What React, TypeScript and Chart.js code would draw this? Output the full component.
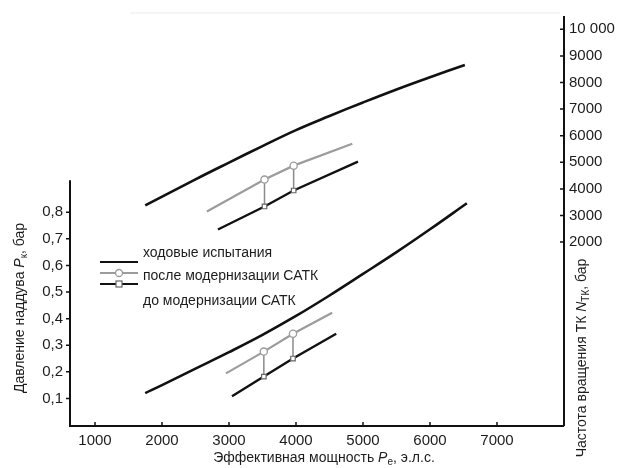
import React, { useEffect, useRef } from "react";
import { Chart, registerables } from "chart.js";

Chart.register(...registerables);

// ---- tick labels ----
const powerTicks = [1000, 2000, 3000, 4000, 5000, 6000, 7000];
const boostTicks = [0.1, 0.2, 0.3, 0.4, 0.5, 0.6, 0.7, 0.8];
const speedTicks = [2000, 3000, 4000, 5000, 6000, 7000, 8000, 9000, 10000];
const boostAxisTop = 0.92;

// ---- sea trials (ходовые испытания) ----
const trialSpeedPower = [1750, 2500, 3000, 3500, 4000, 4500, 5000, 5500, 6000, 6520];
const trialSpeed = [3380, 4360, 4990, 5610, 6210, 6740, 7250, 7740, 8200, 8660];
const trialBoostPower = [1750, 2000, 2500, 3000, 3500, 4000, 4500, 5000, 5500, 6000, 6550];
const trialBoost = [0.12, 0.15, 0.212, 0.274, 0.339, 0.41, 0.487, 0.568, 0.65, 0.736, 0.834];

// ---- after modernisation (после модернизации САТК) ----
const afterSpeedPower = [2670, 3530, 3965, 4840];
const afterSpeed = [3150, 4350, 4875, 5700];
const afterBoostPower = [2955, 3520, 3955, 4540];
const afterBoost = [0.194, 0.276, 0.343, 0.422];

// ---- before modernisation (до модернизации САТК) ----
const beforeSpeedPower = [2835, 3530, 3965, 4925];
const beforeSpeed = [2475, 3340, 3940, 5025];
const beforeBoostPower = [3045, 3520, 3955, 4600];
const beforeBoost = [0.108, 0.182, 0.25, 0.343];

const markerIdx = [1, 2];

const legendLabels = ["ходовые испытания", "после модернизации САТК", "до модернизации САТК"];

const FONT = "'Liberation Sans', Arial, Helvetica, sans-serif";
const TEXT = "#1c1c1c";
const BLACK = "#111111";
const GRAY = "#9c9c9c";

const pts = (xs: number[], ys: number[]) => xs.map((x, i) => ({ x, y: ys[i] }));

type Part = { t: string; it?: boolean; sub?: boolean };

function drawRich(ctx: CanvasRenderingContext2D, parts: Part[], cx: number, baseY: number) {
  const fontOf = (p: Part) =>
    `${p.it ? "italic " : ""}${p.sub ? 10 : 14}px ${FONT}`;
  let total = 0;
  const widths = parts.map((p) => {
    ctx.font = fontOf(p);
    const w = ctx.measureText(p.t).width;
    total += w;
    return w;
  });
  let x = cx - total / 2;
  ctx.textAlign = "left";
  ctx.textBaseline = "alphabetic";
  parts.forEach((p, i) => {
    ctx.font = fontOf(p);
    ctx.fillText(p.t, x, baseY + (p.sub ? 3 : 0));
    x += widths[i];
  });
}

const decor = {
  id: "decor",
  afterDraw(chart: any) {
    const ctx: CanvasRenderingContext2D = chart.ctx;
    const xs = chart.scales.x;
    const yL = chart.scales.yL;
    const yR = chart.scales.yR;
    const { left, right, top, bottom } = chart.chartArea;
    ctx.save();

    // faint line at top (scan artefact)
    ctx.strokeStyle = "#ebebeb";
    ctx.lineWidth = 1;
    ctx.beginPath();
    ctx.moveTo(130, top - 3);
    ctx.lineTo(right - 4, top - 3);
    ctx.stroke();

    // axis lines
    ctx.strokeStyle = BLACK;
    ctx.lineWidth = 2;
    ctx.beginPath();
    ctx.moveTo(left, yL.getPixelForValue(boostAxisTop));
    ctx.lineTo(left, bottom + 1);
    ctx.lineTo(right, bottom + 1);
    ctx.moveTo(right, bottom + 1);
    ctx.lineTo(right, top);
    ctx.stroke();

    // tick marks
    ctx.lineWidth = 1.5;
    ctx.beginPath();
    boostTicks.forEach((v) => {
      const y = yL.getPixelForValue(v);
      ctx.moveTo(left - 4, y);
      ctx.lineTo(left, y);
    });
    speedTicks.forEach((v) => {
      const y = yR.getPixelForValue(v);
      ctx.moveTo(right - 4, y);
      ctx.lineTo(right, y);
    });
    powerTicks.forEach((v) => {
      const x = xs.getPixelForValue(v);
      ctx.moveTo(x, bottom + 1);
      ctx.lineTo(x, bottom - 3);
    });
    ctx.stroke();

    // titles
    ctx.fillStyle = TEXT;
    drawRich(
      ctx,
      [{ t: "Эффективная мощность " }, { t: "P", it: true }, { t: "e", sub: true }, { t: ", э.л.с." }],
      324,
      462
    );

    ctx.save();
    ctx.translate(24, 308);
    ctx.rotate(-Math.PI / 2);
    drawRich(
      ctx,
      [{ t: "Давление наддува " }, { t: "P", it: true }, { t: "к", sub: true }, { t: ", бар" }],
      0,
      0
    );
    ctx.restore();

    ctx.save();
    ctx.translate(586, 358);
    ctx.rotate(-Math.PI / 2);
    drawRich(
      ctx,
      [{ t: "Частота вращения ТК " }, { t: "N", it: true }, { t: "ТК", sub: true }, { t: ", бар" }],
      0,
      0
    );
    ctx.restore();

    // legend
    const lx0 = 100, lx1 = 138, lxm = 119, tx = 143;
    ctx.lineWidth = 2;
    ctx.strokeStyle = BLACK;
    ctx.beginPath();
    ctx.moveTo(lx0, 262);
    ctx.lineTo(lx1, 262);
    ctx.stroke();
    ctx.strokeStyle = GRAY;
    ctx.beginPath();
    ctx.moveTo(lx0, 273);
    ctx.lineTo(lx1, 273);
    ctx.stroke();
    ctx.fillStyle = "#fff";
    ctx.lineWidth = 1.3;
    ctx.beginPath();
    ctx.arc(lxm, 273, 3.5, 0, Math.PI * 2);
    ctx.fill();
    ctx.stroke();
    ctx.strokeStyle = BLACK;
    ctx.lineWidth = 2;
    ctx.beginPath();
    ctx.moveTo(lx0, 284);
    ctx.lineTo(lx1, 284);
    ctx.stroke();
    ctx.fillStyle = "#fff";
    ctx.strokeStyle = "#666";
    ctx.lineWidth = 1.2;
    ctx.fillRect(lxm - 3, 281, 6, 6);
    ctx.strokeRect(lxm - 3, 281, 6, 6);

    ctx.fillStyle = TEXT;
    ctx.font = `14px ${FONT}`;
    ctx.textAlign = "left";
    ctx.textBaseline = "alphabetic";
    ctx.fillText(legendLabels[0], tx, 257);
    ctx.fillText(legendLabels[1], tx, 280);
    ctx.fillText(legendLabels[2], tx, 305);

    ctx.restore();
  },
};

function connector(xs: number[], yTop: number[], xs2: number[], yBot: number[], i: number, axis: string) {
  return {
    data: [
      { x: xs[i], y: yTop[i] },
      { x: xs2[i], y: yBot[i] },
    ],
    yAxisID: axis,
    borderColor: "#8a8a8a",
    borderWidth: 1.5,
    pointRadius: 0,
    tension: 0,
    order: 5,
  };
}

function markerRadius(r: number) {
  return (c: any) => (markerIdx.includes(c.dataIndex) ? r : 0);
}

export default function App() {
  const ref = useRef<HTMLCanvasElement | null>(null);

  useEffect(() => {
    if (!ref.current) return;
    const tickFont = { family: FONT, size: 15 };
    const chart = new Chart(ref.current, {
      type: "line",
      data: {
        datasets: [
          {
            label: legendLabels[0],
            data: pts(trialSpeedPower, trialSpeed),
            yAxisID: "yR",
            borderColor: BLACK,
            borderWidth: 2.6,
            pointRadius: 0,
            tension: 0.4,
            order: 0,
          },
          {
            label: legendLabels[0],
            data: pts(trialBoostPower, trialBoost),
            yAxisID: "yL",
            borderColor: BLACK,
            borderWidth: 2.6,
            pointRadius: 0,
            tension: 0.4,
            order: 0,
          },
          {
            label: legendLabels[1],
            data: pts(afterSpeedPower, afterSpeed),
            yAxisID: "yR",
            borderColor: GRAY,
            borderWidth: 2.2,
            tension: 0,
            pointStyle: "circle",
            pointRadius: markerRadius(3.6),
            pointBackgroundColor: "#fff",
            pointBorderColor: GRAY,
            pointBorderWidth: 1.3,
            order: 0,
          },
          {
            label: legendLabels[1],
            data: pts(afterBoostPower, afterBoost),
            yAxisID: "yL",
            borderColor: GRAY,
            borderWidth: 2.2,
            tension: 0,
            pointStyle: "circle",
            pointRadius: markerRadius(3.6),
            pointBackgroundColor: "#fff",
            pointBorderColor: GRAY,
            pointBorderWidth: 1.3,
            order: 0,
          },
          {
            label: legendLabels[2],
            data: pts(beforeSpeedPower, beforeSpeed),
            yAxisID: "yR",
            borderColor: BLACK,
            borderWidth: 2.4,
            tension: 0,
            pointStyle: "rect",
            pointRadius: markerRadius(3.2),
            pointBackgroundColor: "#fff",
            pointBorderColor: "#666",
            pointBorderWidth: 1.2,
            order: 0,
          },
          {
            label: legendLabels[2],
            data: pts(beforeBoostPower, beforeBoost),
            yAxisID: "yL",
            borderColor: BLACK,
            borderWidth: 2.4,
            tension: 0,
            pointStyle: "rect",
            pointRadius: markerRadius(3.2),
            pointBackgroundColor: "#fff",
            pointBorderColor: "#666",
            pointBorderWidth: 1.2,
            order: 0,
          },
          connector(afterSpeedPower, afterSpeed, beforeSpeedPower, beforeSpeed, 1, "yR"),
          connector(afterSpeedPower, afterSpeed, beforeSpeedPower, beforeSpeed, 2, "yR"),
          connector(afterBoostPower, afterBoost, beforeBoostPower, beforeBoost, 1, "yL"),
          connector(afterBoostPower, afterBoost, beforeBoostPower, beforeBoost, 2, "yL"),
        ] as any,
      },
      options: {
        animation: false,
        responsive: false,
        devicePixelRatio: 1,
        layout: { padding: { top: 15, left: 0, right: 0, bottom: 0 } },
        plugins: { legend: { display: false }, tooltip: { enabled: false } },
        scales: {
          x: {
            type: "linear",
            min: 627,
            max: 8000,
            grid: { display: false, drawTicks: false },
            border: { display: false },
            ticks: {
              font: tickFont,
              color: TEXT,
              padding: 7,
              autoSkip: false,
              maxRotation: 0,
              callback: (v: any) => String(v),
            },
            afterBuildTicks: (s: any) => {
              s.ticks = powerTicks.map((v) => ({ value: v }));
            },
            afterFit: (s: any) => {
              s.height = 43;
            },
          },
          yL: {
            type: "linear",
            position: "left",
            min: 0,
            max: 1.538,
            grid: { display: false, drawTicks: false },
            border: { display: false },
            ticks: {
              font: tickFont,
              color: TEXT,
              padding: 7,
              autoSkip: false,
              callback: (v: any) => Number(v).toFixed(1).replace(".", ","),
            },
            afterBuildTicks: (s: any) => {
              s.ticks = boostTicks.map((v) => ({ value: v }));
            },
            afterFit: (s: any) => {
              s.width = 70;
            },
          },
          yR: {
            type: "linear",
            position: "right",
            min: -4875,
            max: 10500,
            grid: { display: false, drawTicks: false },
            border: { display: false },
            ticks: {
              font: tickFont,
              color: TEXT,
              padding: 5,
              autoSkip: false,
              callback: (v: any) => (Number(v) === 10000 ? "10 000" : String(v)),
            },
            afterBuildTicks: (s: any) => {
              s.ticks = speedTicks.map((v) => ({ value: v }));
            },
            afterFit: (s: any) => {
              s.width = 60;
            },
          },
        },
      } as any,
      plugins: [decor],
    });
    return () => chart.destroy();
  }, []);

  return (
    <div style={{ position: "fixed", left: 0, top: 0, width: 624, height: 468, background: "#fff" }}>
      <canvas ref={ref} width={624} height={468} style={{ display: "block", width: 624, height: 468 }} />
    </div>
  );
}
